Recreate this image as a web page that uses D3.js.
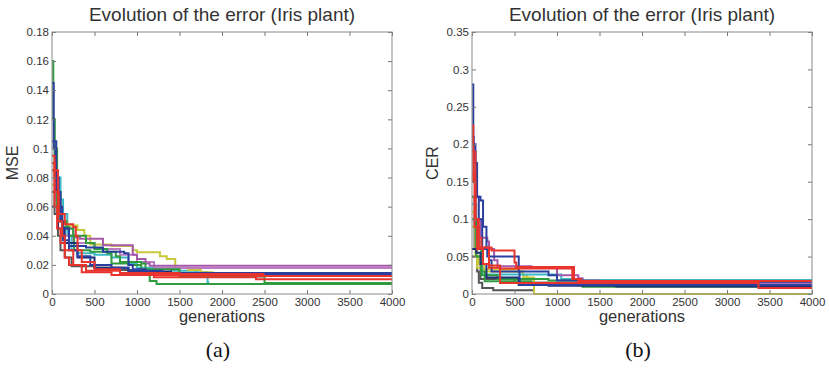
<!DOCTYPE html>
<html>
<head>
<meta charset="utf-8">
<script src="https://cdn.jsdelivr.net/npm/d3@7"></script>
<style>
  body { margin: 0; background: #fff; }
  svg { display: block; }
</style>
</head>
<body>
<svg id="chart" width="829" height="372"></svg>
<script>
// tick values
const generationTicks = [0, 500, 1000, 1500, 2000, 2500, 3000, 3500, 4000];
const mseTicks = [0, 0.02, 0.04, 0.06, 0.08, 0.1, 0.12, 0.14, 0.16, 0.18];
const cerTicks = [0, 0.05, 0.1, 0.15, 0.2, 0.25, 0.3, 0.35];

// (a) MSE runs, [generation, error] step points
const mseGray = [[0,0.07],[30,0.055],[70,0.04],[100,0.03],[150,0.025],[230,0.019],[500,0.018],[800,0.0165],[1200,0.014],[1500,0.012],[2500,0.012]];
const mseCyan = [[0,0.085],[50,0.08],[100,0.065],[130,0.055],[180,0.04],[230,0.03],[300,0.028],[500,0.027],[700,0.025],[900,0.021],[1000,0.018],[1400,0.016],[1700,0.015],[1830,0.008],[1850,0.008]];
const mseYellow = [[0,0.075],[60,0.055],[100,0.05],[180,0.047],[300,0.044],[380,0.04],[450,0.034],[700,0.033],[950,0.03],[1000,0.0287],[1270,0.026],[1350,0.024],[1450,0.018],[1600,0.0165],[1750,0.015],[1900,0.015]];
const mseMagenta = [[0,0.09],[40,0.065],[100,0.05],[170,0.045],[250,0.039],[330,0.038],[600,0.0335],[950,0.027],[1000,0.024],[1100,0.021],[1150,0.0194],[4000,0.0194]];
const mseMagenta2 = [[0,0.06],[60,0.05],[120,0.04],[250,0.035],[500,0.031],[800,0.027],[1000,0.022],[1200,0.0178],[4000,0.0178]];
const mseGreen1 = [[0,0.16],[15,0.12],[30,0.1],[60,0.07],[100,0.05],[170,0.045],[250,0.04],[400,0.035],[500,0.031],[650,0.029],[750,0.026],[800,0.022],[1050,0.021],[1100,0.013],[1150,0.009],[1230,0.0068],[4000,0.0068]];
const mseGreen2 = [[0,0.12],[30,0.08],[60,0.055],[120,0.046],[200,0.04],[260,0.03],[450,0.029],[650,0.028],[700,0.021],[900,0.02],[1050,0.017],[1500,0.0125],[2500,0.0075],[4000,0.0075]];
const mseBlue1 = [[0,0.145],[20,0.1],[40,0.08],[80,0.06],[120,0.045],[200,0.033],[400,0.032],[600,0.029],[850,0.028],[900,0.02],[950,0.017],[1100,0.0145],[4000,0.0145]];
const mseBlue2 = [[0,0.105],[50,0.07],[100,0.05],[130,0.037],[200,0.03],[300,0.026],[450,0.02],[700,0.018],[900,0.016],[1300,0.0135],[4000,0.0135]];
const mseBlue3 = [[0,0.06],[70,0.045],[150,0.035],[300,0.025],[500,0.018],[900,0.0155],[1400,0.013],[2500,0.013]];
const mseRed1 = [[0,0.095],[30,0.07],[80,0.055],[150,0.048],[250,0.046],[280,0.04],[300,0.03],[350,0.022],[500,0.017],[800,0.014],[1200,0.013],[2400,0.0124],[4000,0.0124]];
const mseRed2 = [[0,0.09],[30,0.06],[60,0.045],[100,0.035],[150,0.025],[200,0.02],[350,0.015],[700,0.013],[1200,0.0115],[2400,0.0101],[4000,0.0101]];
const mseRed3 = [[0,0.085],[70,0.05],[120,0.04],[150,0.03],[250,0.02],[400,0.016],[800,0.0145],[1500,0.0138],[2500,0.0138]];

// (b) CER runs
const cerGray1 = [[0,0.13],[30,0.06],[60,0.03],[80,0.015],[120,0.008],[250,0.005],[730,0.005]];
const cerGray2 = [[0,0.05],[100,0.02],[500,0.015],[1000,0.0125],[4000,0.0125]];
const cerCyan = [[0,0.12],[50,0.07],[110,0.045],[120,0.026],[1050,0.02],[1300,0.0187],[4000,0.0187]];
const cerYellow = [[0,0.11],[40,0.05],[80,0.04],[140,0.033],[550,0.03],[600,0.022],[730,0],[4000,0]];
const cerYellow2 = [[0,0.09],[60,0.035],[130,0.03],[600,0.025],[650,0.02],[700,0.02]];
const cerMagenta = [[0,0.15],[40,0.1],[100,0.075],[180,0.07],[200,0.06],[260,0.045],[300,0.037],[700,0.036],[1000,0.025],[1250,0.021],[1300,0.018],[1500,0.015],[4000,0.015]];
const cerGreen1 = [[0,0.13],[40,0.09],[80,0.06],[110,0.025],[300,0.02],[900,0.018],[1300,0.0098],[4000,0.0098]];
const cerGreen2 = [[0,0.1],[50,0.05],[110,0.03],[150,0.017],[700,0.015],[1300,0.011],[4000,0.011]];
const cerBlue1 = [[0,0.28],[15,0.2],[40,0.13],[80,0.1],[120,0.06],[180,0.05],[550,0.03],[560,0.012],[1700,0.012],[4000,0.012]];
const cerBlue2 = [[0,0.21],[20,0.19],[40,0.175],[60,0.13],[100,0.125],[130,0.09],[170,0.06],[200,0.045],[230,0.03],[900,0.025],[1000,0.018],[1300,0.0165],[4000,0.0165]];
const cerNavy = [[0,0.06],[50,0.055],[100,0.04],[170,0.022],[550,0.012],[900,0.011],[1700,0.01],[4000,0.01]];
const cerRedA = [[0,0.225],[15,0.15],[40,0.1],[70,0.075],[110,0.062],[230,0.058],[500,0.042],[520,0.036],[1200,0.02],[1280,0.017],[3000,0.017]];
const cerRedB = [[0,0.16],[30,0.09],[60,0.06],[130,0.04],[200,0.035],[330,0.0147],[3370,0.008],[4000,0.008]];
const cerRedC = [[0,0.19],[40,0.1],[80,0.062],[200,0.038],[330,0.034],[1180,0.02],[1250,0.0175],[4000,0.0175]];

const C = {
  gray: '#555555', cyan: '#3cb9c6', yellow: '#c8c83a', magenta: '#a559ab',
  pink: '#c07ac4', green: '#2f9a3e', blue: '#2b3f9e', navy: '#1f2f7a', red: '#e8342c'
};

const panels = [
  {
    left: 52, right: 392, label: 'MSE', tag: '(a)', yMax: 0.18, yTicks: mseTicks,
    runs: [
      [mseGray, C.gray], [mseCyan, C.cyan], [mseYellow, C.yellow], [mseMagenta2, C.pink],
      [mseMagenta, C.magenta], [mseGreen2, C.green], [mseGreen1, C.green], [mseBlue3, C.navy],
      [mseBlue1, C.blue], [mseBlue2, C.blue], [mseRed3, C.red], [mseRed1, C.red], [mseRed2, C.red]
    ]
  },
  {
    left: 472, right: 812, label: 'CER', tag: '(b)', yMax: 0.35, yTicks: cerTicks,
    runs: [
      [cerGray1, C.gray], [cerGray2, C.gray], [cerYellow2, C.yellow], [cerYellow, C.yellow],
      [cerCyan, C.cyan], [cerGreen2, C.green], [cerGreen1, C.green], [cerMagenta, C.magenta],
      [cerNavy, C.navy], [cerBlue1, C.blue], [cerBlue2, C.blue], [cerRedC, C.red], [cerRedA, C.red], [cerRedB, C.red]
    ]
  }
];

const plotTop = 32, plotBottom = 294;
const svg = d3.select('#chart');
const fmt = d3.format('~g');

panels.forEach(p => {
  const x = d3.scaleLinear().domain([0, 4000]).range([p.left, p.right]);
  const y = d3.scaleLinear().domain([0, p.yMax]).range([plotBottom, plotTop]);
  const g = svg.append('g');

  const line = d3.line()
    .x(d => x(d[0]))
    .y(d => y(d[1]))
    .curve(d3.curveStepAfter);

  g.append('g')
    .selectAll('path')
    .data(p.runs)
    .enter().append('path')
    .attr('d', d => line(d[0]))
    .attr('fill', 'none')
    .attr('stroke', d => d[1])
    .attr('stroke-width', 2)
    .attr('stroke-linejoin', 'miter');

  // axes, ticks point inward like matlab
  const styleAxis = sel => {
    sel.select('.domain').remove();
    sel.selectAll('line').attr('stroke', '#777');
    sel.selectAll('text').attr('fill', '#333')
      .style('font-family', '"Liberation Sans", Arial, sans-serif').style('font-size', '11.5px');
  };
  g.append('g').attr('transform', `translate(0,${plotBottom})`)
    .call(d3.axisBottom(x).tickValues(generationTicks).tickFormat(fmt).tickSizeInner(-4).tickSizeOuter(0).tickPadding(4))
    .call(styleAxis);
  g.append('g').attr('transform', `translate(0,${plotTop})`)
    .call(d3.axisTop(x).tickValues(generationTicks).tickFormat('').tickSizeInner(-4).tickSizeOuter(0))
    .call(styleAxis);
  g.append('g').attr('transform', `translate(${p.left},0)`)
    .call(d3.axisLeft(y).tickValues(p.yTicks).tickFormat(fmt).tickSizeInner(-4).tickSizeOuter(0).tickPadding(3))
    .call(styleAxis);
  g.append('g').attr('transform', `translate(${p.right},0)`)
    .call(d3.axisRight(y).tickValues(p.yTicks).tickFormat('').tickSizeInner(-4).tickSizeOuter(0))
    .call(styleAxis);

  g.append('rect')
    .attr('x', p.left).attr('y', plotTop)
    .attr('width', p.right - p.left).attr('height', plotBottom - plotTop)
    .attr('fill', 'none').attr('stroke', '#8a8a8a').attr('stroke-width', 1);

  const cx = (p.left + p.right) / 2;
  g.append('text')
    .attr('x', cx).attr('y', 21)
    .attr('text-anchor', 'middle')
    .style('font-family', '"Liberation Sans", Arial, sans-serif')
    .style('font-size', '19px').attr('fill', '#333')
    .text('Evolution of the error (Iris plant)');

  g.append('text')
    .attr('x', cx).attr('y', 322)
    .attr('text-anchor', 'middle')
    .style('font-family', '"Liberation Sans", Arial, sans-serif')
    .style('font-size', '16.5px').attr('fill', '#333')
    .text('generations');

  g.append('text')
    .attr('transform', `translate(${p.left - 34},163) rotate(-90)`)
    .attr('text-anchor', 'middle')
    .style('font-family', '"Liberation Sans", Arial, sans-serif')
    .style('font-size', '16px').attr('fill', '#333')
    .text(p.label);

  g.append('text')
    .attr('x', cx - 4).attr('y', 357)
    .attr('text-anchor', 'middle')
    .style('font-family', '"Liberation Serif", "Times New Roman", serif')
    .style('font-size', '22px').attr('fill', '#111')
    .text(p.tag);
});
</script>
</body>
</html>
